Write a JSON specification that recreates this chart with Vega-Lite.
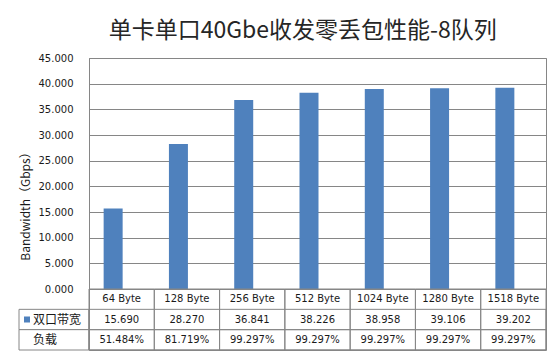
{
  "$schema": "https://vega.github.io/schema/vega-lite/v6.json",
  "padding": {"left": 18, "top": 19, "right": 4, "bottom": 4},
  "background": "white",
  "title": {
    "text": "单卡单口40Gbe收发零丢包性能-8队列",
    "font": "Noto Sans CJK SC",
    "fontSize": 23,
    "fontWeight": "normal",
    "color": "#262626",
    "anchor": "middle",
    "dx": 20,
    "offset": 10
  },
  "datasets": {
    "perf": [
      {"size": "64 Byte", "bw": 15.690, "load": "51.484%"},
      {"size": "128 Byte", "bw": 28.270, "load": "81.719%"},
      {"size": "256 Byte", "bw": 36.841, "load": "99.297%"},
      {"size": "512 Byte", "bw": 38.226, "load": "99.297%"},
      {"size": "1024 Byte", "bw": 38.958, "load": "99.297%"},
      {"size": "1280 Byte", "bw": 39.106, "load": "99.297%"},
      {"size": "1518 Byte", "bw": 39.202, "load": "99.297%"}
    ],
    "rows": [
      {"row": "双口带宽"},
      {"row": "负载"}
    ]
  },
  "columns": 2,
  "spacing": 0,
  "bounds": "flush",
  "concat": [
    {
      "width": 70,
      "height": 231,
      "view": {"stroke": null},
      "data": {"values": []},
      "mark": "point",
      "encoding": {}
    },
    {
      "width": 457,
      "height": 231,
      "view": {"stroke": "#868686", "strokeWidth": 1},
      "data": {"name": "perf"},
      "mark": {"type": "bar", "color": "#4F81BD", "size": 19, "xOffset": -8.5},
      "encoding": {
        "x": {
          "field": "size",
          "type": "nominal",
          "sort": null,
          "scale": {"type": "band", "paddingInner": 0, "paddingOuter": 0},
          "axis": null
        },
        "y": {
          "field": "bw",
          "type": "quantitative",
          "scale": {"domain": [0, 45], "nice": false},
          "axis": {
            "values": [0, 5, 10, 15, 20, 25, 30, 35, 40, 45],
            "format": ".3f",
            "title": "Bandwidth（Gbps）",
            "titleFont": "Noto Sans CJK SC",
            "titleFontSize": 12,
            "titleFontWeight": "normal",
            "titleColor": "#1a1a1a",
            "titleX": -57,
            "titleY": 145,
            "labelFont": "DejaVu Sans",
            "labelFontSize": 10,
            "labelColor": "#1a1a1a",
            "labelPadding": 16,
            "ticks": false,
            "domain": true,
            "domainColor": "#868686",
            "grid": true,
            "gridColor": "#868686",
            "gridOpacity": 1
          }
        }
      }
    },
    {
      "width": 70,
      "height": 61,
      "view": {"stroke": null},
      "layer": [
        {
          "data": {"name": "rows"},
          "mark": {"type": "rect", "fill": "white", "stroke": "#868686", "strokeWidth": 1},
          "encoding": {
            "y": {
              "field": "row",
              "type": "nominal",
              "scale": {"type": "band", "domain": ["hdr", "双口带宽", "负载"], "paddingInner": 0, "paddingOuter": 0},
              "axis": null
            }
          }
        },
        {
          "data": {"name": "rows"},
          "mark": {"type": "text", "align": "left", "dx": -21, "font": "Noto Sans CJK SC", "fontSize": 12, "color": "#1a1a1a"},
          "encoding": {
            "y": {"field": "row", "type": "nominal", "bandPosition": 0.5},
            "text": {"field": "row"}
          }
        },
        {
          "data": {"name": "rows"},
          "transform": [{"filter": "datum.row === '双口带宽'"}],
          "mark": {"type": "point", "shape": "square", "filled": true, "size": 36, "color": "#4F81BD", "opacity": 1, "xOffset": -27},
          "encoding": {
            "y": {"field": "row", "type": "nominal", "bandPosition": 0.5}
          }
        }
      ]
    },
    {
      "width": 457,
      "height": 61,
      "view": {"stroke": "#868686", "strokeWidth": 1},
      "layer": [
        {
          "data": {"name": "perf"},
          "mark": {"type": "rect", "fillOpacity": 0, "stroke": "#868686", "strokeWidth": 1},
          "encoding": {
            "x": {
              "field": "size",
              "type": "nominal",
              "sort": null,
              "scale": {"type": "band", "paddingInner": 0, "paddingOuter": 0},
              "axis": null
            }
          }
        },
        {
          "data": {"name": "rows"},
          "mark": {"type": "rect", "fillOpacity": 0, "stroke": "#868686", "strokeWidth": 1},
          "encoding": {
            "y": {
              "field": "row",
              "type": "nominal",
              "scale": {"type": "band", "domain": ["hdr", "双口带宽", "负载"], "paddingInner": 0, "paddingOuter": 0},
              "axis": null
            }
          }
        },
        {
          "data": {"name": "perf"},
          "mark": {"type": "text", "font": "DejaVu Sans", "fontSize": 10, "color": "#1a1a1a"},
          "encoding": {
            "x": {"field": "size", "type": "nominal", "sort": null, "bandPosition": 0.5},
            "y": {"datum": "hdr", "type": "nominal", "bandPosition": 0.5},
            "text": {"field": "size"}
          }
        },
        {
          "data": {"name": "perf"},
          "mark": {"type": "text", "font": "DejaVu Sans", "fontSize": 10, "color": "#1a1a1a"},
          "encoding": {
            "x": {"field": "size", "type": "nominal", "sort": null, "bandPosition": 0.5},
            "y": {"datum": "双口带宽", "type": "nominal", "bandPosition": 0.5},
            "text": {"field": "bw", "format": ".3f"}
          }
        },
        {
          "data": {"name": "perf"},
          "mark": {"type": "text", "font": "DejaVu Sans", "fontSize": 10, "color": "#1a1a1a"},
          "encoding": {
            "x": {"field": "size", "type": "nominal", "sort": null, "bandPosition": 0.5},
            "y": {"datum": "负载", "type": "nominal", "bandPosition": 0.5},
            "text": {"field": "load"}
          }
        }
      ]
    }
  ]
}
